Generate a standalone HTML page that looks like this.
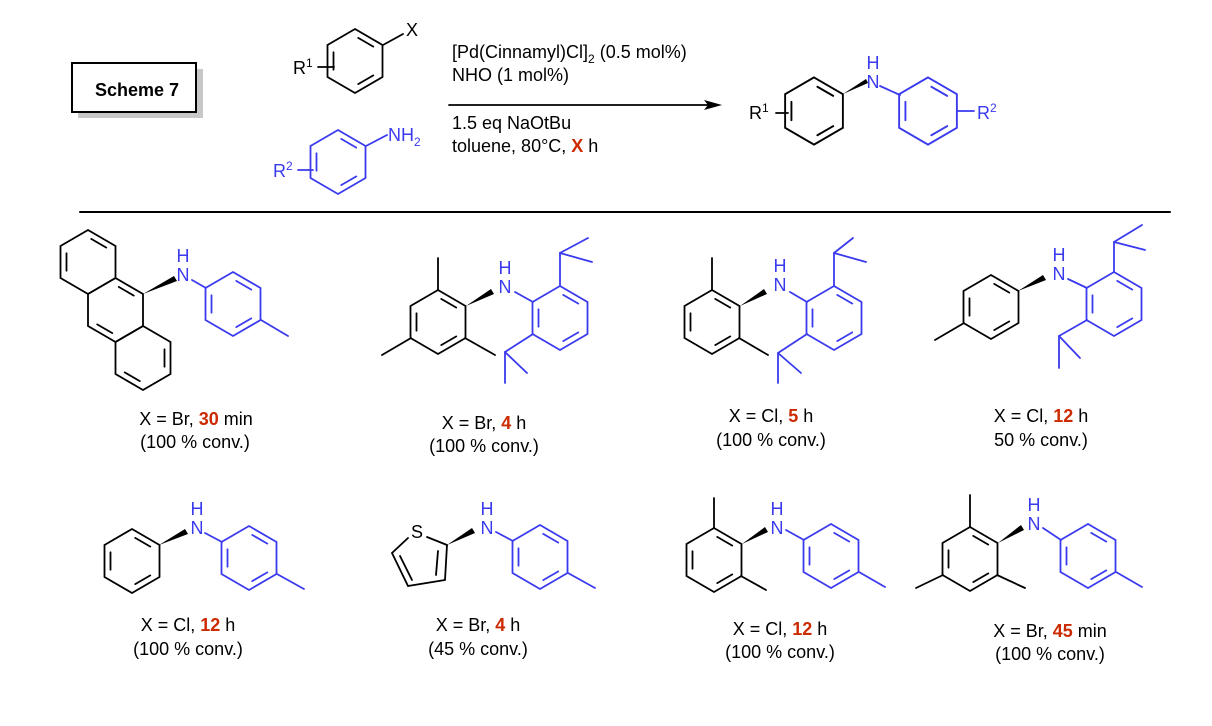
<!DOCTYPE html>
<html><head><meta charset="utf-8"><style>
html,body{margin:0;padding:0;background:#fff;}
svg{display:block;}
text{font-family:"Liberation Sans",Arial,sans-serif;}
</style></head><body>
<svg width="1212" height="726" viewBox="0 0 1212 726" xmlns="http://www.w3.org/2000/svg">
<defs>
<polygon id="hx" points="0,-32 27.5,-16 27.5,16 0,32 -27.5,16 -27.5,-16" fill="none"/>
<line id="e0" x1="3.2" y1="-23.1" x2="18.3" y2="-14.4"/>
<line id="e1" x1="21.5" y1="-8.75" x2="21.5" y2="8.75"/>
<line id="e2" x1="18.3" y1="14.4" x2="3.2" y2="23.1"/>
<line id="e3" x1="-3.2" y1="23.1" x2="-18.3" y2="14.4"/>
<line id="e4" x1="-21.5" y1="8.75" x2="-21.5" y2="-8.75"/>
<line id="e5" x1="-18.3" y1="-14.4" x2="-3.2" y2="-23.1"/>
<g id="A"><use href="#hx"/><use href="#e0"/><use href="#e2"/><use href="#e4"/></g>
</defs>

<g stroke-width="1.8" fill="none" stroke-linecap="round">
<!-- Scheme box -->
<rect x="78" y="69" width="125" height="49" fill="#c8c8c8" stroke="none"/>
<rect x="72" y="63" width="124" height="49" fill="#fff" stroke="#000" stroke-width="2"/>

<!-- reactant 1 -->
<g stroke="#000"><g transform="translate(355,61)"><use href="#A"/></g>
<line x1="383" y1="45" x2="403" y2="34"/>
<line x1="318" y1="67" x2="334" y2="67"/></g>
<!-- aniline -->
<g stroke="#3a3aee"><g transform="translate(338,162)"><use href="#A"/></g>
<line x1="366" y1="146" x2="387" y2="135"/>
<line x1="298" y1="170" x2="313" y2="170"/></g>

<!-- arrow -->
<line x1="449" y1="105" x2="708" y2="105" stroke="#000" stroke-width="1.8"/>
<polygon points="722,105 704,100 708,105 704,110" fill="#000" stroke="none"/>

<!-- product -->
<g stroke="#000"><g transform="translate(814,111) scale(1.05)"><use href="#A"/></g>
<line x1="776" y1="113" x2="788" y2="113"/></g>
<polygon points="843,94 866,79 868,83" fill="#000" stroke="none"/>
<g stroke="#3a3aee"><g transform="translate(928,111) scale(1.05)"><use href="#A"/></g>
<line x1="880" y1="86" x2="900" y2="95"/>
<line x1="957" y1="111" x2="974" y2="111"/></g>

<!-- separator -->
<line x1="80" y1="212" x2="1170" y2="212" stroke="#000" stroke-width="2"/>

<!-- Mol1 anthracene -->
<g stroke="#000">
<g transform="translate(88,262)"><use href="#hx"/><use href="#e0"/><use href="#e4"/></g>
<g transform="translate(115.5,310)"><use href="#hx"/><use href="#e0"/><use href="#e3"/></g>
<g transform="translate(143,358)"><use href="#hx"/><use href="#e1"/><use href="#e3"/></g>
</g>
<polygon points="143,294 174,276 177,281" fill="#000" stroke="none"/>
<g stroke="#3a3aee"><g transform="translate(233,304)"><use href="#A"/></g>
<line x1="192" y1="280" x2="206" y2="288"/>
<line x1="261" y1="320" x2="288" y2="336"/></g>

<!-- Mol2 -->
<g stroke="#000"><g transform="translate(438,322)"><use href="#A"/></g>
<line x1="438" y1="290" x2="438" y2="258"/>
<line x1="465" y1="338" x2="495" y2="355"/>
<line x1="411" y1="338" x2="382" y2="355"/></g>
<polygon points="466,306 491,289 494,294" fill="#000" stroke="none"/>
<g stroke="#3a3aee"><g transform="translate(560,318)"><use href="#A"/></g>
<line x1="515" y1="292" x2="533" y2="302"/>
<line x1="560" y1="286" x2="560" y2="253"/><line x1="560" y1="253" x2="588" y2="238"/><line x1="560" y1="253" x2="592" y2="262"/>
<line x1="533" y1="334" x2="505" y2="352"/><line x1="505" y1="352" x2="505" y2="383"/><line x1="505" y1="352" x2="527" y2="373"/></g>

<!-- Mol3 -->
<g stroke="#000"><g transform="translate(712,322)"><use href="#A"/></g>
<line x1="712" y1="290" x2="712" y2="258"/>
<line x1="739" y1="338" x2="768" y2="355"/></g>
<polygon points="740,306 764,289 767,294" fill="#000" stroke="none"/>
<g stroke="#3a3aee"><g transform="translate(834,318)"><use href="#A"/></g>
<line x1="790" y1="292" x2="807" y2="302"/>
<line x1="834" y1="286" x2="834" y2="253"/><line x1="834" y1="253" x2="853" y2="238"/><line x1="834" y1="253" x2="866" y2="262"/>
<line x1="807" y1="334" x2="778" y2="353"/><line x1="778" y1="353" x2="778" y2="383"/><line x1="778" y1="353" x2="801" y2="373"/></g>

<!-- Mol4 -->
<g stroke="#000"><g transform="translate(991,307)"><use href="#A"/></g>
<line x1="964" y1="323" x2="935" y2="340"/></g>
<polygon points="1018,291 1043,275 1046,280" fill="#000" stroke="none"/>
<g stroke="#3a3aee"><g transform="translate(1114,304)"><use href="#A"/></g>
<line x1="1068" y1="279" x2="1087" y2="288"/>
<line x1="1114" y1="272" x2="1114" y2="242"/><line x1="1114" y1="242" x2="1142" y2="225"/><line x1="1114" y1="242" x2="1145" y2="250"/>
<line x1="1087" y1="320" x2="1059" y2="336"/><line x1="1059" y1="336" x2="1059" y2="368"/><line x1="1059" y1="336" x2="1080" y2="358"/></g>

<!-- Mol5 -->
<g stroke="#000"><g transform="translate(132,561)"><use href="#A"/></g></g>
<polygon points="159,545 185,529 188,534" fill="#000" stroke="none"/>
<g stroke="#3a3aee"><g transform="translate(249,558)"><use href="#A"/></g>
<line x1="205" y1="533" x2="222" y2="542"/>
<line x1="277" y1="574" x2="304" y2="589"/></g>

<!-- Mol6 thiophene -->
<g stroke="#000">
<line x1="408" y1="538" x2="392" y2="553"/>
<polyline points="392,553 408,586 445,580 447,545"/>
<line x1="427" y1="537" x2="447" y2="545"/>
<line x1="438" y1="551" x2="436" y2="575"/>
<line x1="400" y1="556" x2="412" y2="580"/>
</g>
<polygon points="447,545 472,528 475,533" fill="#000" stroke="none"/>
<g stroke="#3a3aee"><g transform="translate(540,557)"><use href="#A"/></g>
<line x1="496" y1="532" x2="513" y2="541"/>
<line x1="568" y1="573" x2="595" y2="588"/></g>

<!-- Mol7 -->
<g stroke="#000"><g transform="translate(714,560)"><use href="#A"/></g>
<line x1="714" y1="528" x2="714" y2="498"/>
<line x1="741" y1="576" x2="766" y2="590"/></g>
<polygon points="742,544 765,527 768,532" fill="#000" stroke="none"/>
<g stroke="#3a3aee"><g transform="translate(831,556)"><use href="#A"/></g>
<line x1="786" y1="530" x2="804" y2="540"/>
<line x1="859" y1="572" x2="885" y2="587"/></g>

<!-- Mol8 -->
<g stroke="#000"><g transform="translate(970,559)"><use href="#A"/></g>
<line x1="970" y1="527" x2="970" y2="495"/>
<line x1="997" y1="575" x2="1025" y2="588"/>
<line x1="943" y1="575" x2="916" y2="588"/></g>
<polygon points="998,543 1021,525 1024,530" fill="#000" stroke="none"/>
<g stroke="#3a3aee"><g transform="translate(1088,556)"><use href="#A"/></g>
<line x1="1043" y1="528" x2="1061" y2="540"/>
<line x1="1116" y1="572" x2="1142" y2="587"/></g>
</g>

<!-- TEXT -->
<g font-size="18" fill="#000">
<text x="137" y="96" text-anchor="middle" font-weight="bold" font-size="18">Scheme 7</text>
<text x="406" y="36" fill="#000">X</text>
<text x="293" y="74">R<tspan font-size="12" dy="-7">1</tspan></text>
<text x="388" y="141" fill="#3a3aee">NH<tspan font-size="12" dy="5">2</tspan></text>
<text x="273" y="177" fill="#3a3aee">R<tspan font-size="12" dy="-7">2</tspan></text>

<text x="452" y="58">[Pd(Cinnamyl)Cl]<tspan font-size="12" dy="5">2</tspan><tspan dy="-5"> (0.5 mol%)</tspan></text>
<text x="452" y="81">NHO (1 mol%)</text>
<text x="452" y="129">1.5 eq NaOtBu</text>
<text x="452" y="152">toluene, 80°C, <tspan fill="#cc2a00" font-weight="bold">X</tspan> h</text>

<text x="749" y="119">R<tspan font-size="12" dy="-7">1</tspan></text>
<g fill="#3a3aee" text-anchor="middle">
<text x="873" y="88">N</text><text x="873" y="69">H</text>
<text x="977" y="119" text-anchor="start">R<tspan font-size="12" dy="-7">2</tspan></text>
<text x="183" y="281">N</text><text x="183" y="262">H</text>
<text x="505" y="293">N</text><text x="505" y="274">H</text>
<text x="780" y="291">N</text><text x="780" y="272">H</text>
<text x="1059" y="280">N</text><text x="1059" y="261">H</text>
<text x="197" y="534">N</text><text x="197" y="515">H</text>
<text x="487" y="534">N</text><text x="487" y="515">H</text>
<text x="777" y="534">N</text><text x="777" y="515">H</text>
<text x="1034" y="530">N</text><text x="1034" y="511">H</text>
</g>
<text x="417" y="538" text-anchor="middle">S</text>

<g text-anchor="middle">
<text x="196" y="425">X = Br, <tspan fill="#cc2a00" font-weight="bold">30</tspan> min</text>
<text x="195" y="448">(100 % conv.)</text>
<text x="484" y="429">X = Br, <tspan fill="#cc2a00" font-weight="bold">4</tspan> h</text>
<text x="484" y="452">(100 % conv.)</text>
<text x="771" y="422">X = Cl, <tspan fill="#cc2a00" font-weight="bold">5</tspan> h</text>
<text x="771" y="446">(100 % conv.)</text>
<text x="1041" y="422">X = Cl, <tspan fill="#cc2a00" font-weight="bold">12</tspan> h</text>
<text x="1041" y="446">50 % conv.)</text>

<text x="188" y="631">X = Cl, <tspan fill="#cc2a00" font-weight="bold">12</tspan> h</text>
<text x="188" y="655">(100 % conv.)</text>
<text x="478" y="631">X = Br, <tspan fill="#cc2a00" font-weight="bold">4</tspan> h</text>
<text x="478" y="655">(45 % conv.)</text>
<text x="780" y="635">X = Cl, <tspan fill="#cc2a00" font-weight="bold">12</tspan> h</text>
<text x="780" y="658">(100 % conv.)</text>
<text x="1050" y="637">X = Br, <tspan fill="#cc2a00" font-weight="bold">45</tspan> min</text>
<text x="1050" y="660">(100 % conv.)</text>
</g>
</g>
</svg>
</body></html>
